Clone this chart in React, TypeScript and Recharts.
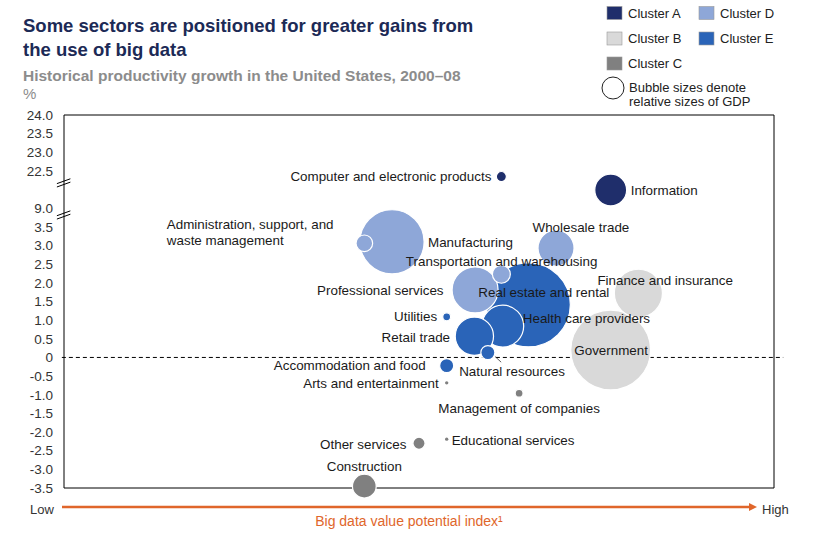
import { ScatterChart, Scatter, XAxis, YAxis, ZAxis, ReferenceArea, ReferenceLine } from "recharts"

// ---- data ----
const sectors = [
  "Computer and electronic products",
  "Information",
  "Administration, support, and waste management",
  "Manufacturing",
  "Wholesale trade",
  "Transportation and warehousing",
  "Professional services",
  "Finance and insurance",
  "Real estate and rental",
  "Utilities",
  "Health care providers",
  "Retail trade",
  "Government",
  "Natural resources",
  "Accommodation and food",
  "Arts and entertainment",
  "Management of companies",
  "Educational services",
  "Other services",
  "Construction",
]
const clusters = ["A", "A", "D", "D", "D", "D", "D", "B", "E", "E", "E", "E", "B", "E", "E", "C", "C", "C", "C", "C"]
// big data value potential index, 0 = low, 100 = high
const valuePotential = [61.6, 77.0, 42.3, 46.2, 69.3, 61.6, 57.9, 80.9, 65.4, 53.9, 61.8, 57.8, 77.0, 59.7, 53.9, 53.9, 64.1, 53.9, 50.0, 42.3]
// productivity growth, %
const productivityGrowth = [22.35, 9.49, 3.06, 3.1, 2.93, 2.23, 1.81, 1.72, 1.41, 1.09, 0.84, 0.57, 0.2, 0.13, -0.22, -0.68, -0.96, -2.19, -2.3, -3.45]
// relative size of GDP (bubble area)
const gdpShare = [0.18, 1.8, 0.49, 7.3, 2.3, 0.57, 3.75, 4.1, 12.5, 0.11, 3.1, 2.6, 11.3, 0.35, 0.35, 0.02, 0.11, 0.02, 0.26, 1.0]

const yTickValues = [-3.5, -3, -2.5, -2, -1.5, -1, -0.5, 0, 0.5, 1, 1.5, 2, 2.5, 3, 3.5, 9, 22.5, 23, 23.5, 24]
const yTickLabels = ["-3.5", "-3.0", "-2.5", "-2.0", "-1.5", "-1.0", "-0.5", "0", "0.5", "1.0", "1.5", "2.0", "2.5", "3.0", "3.5", "9.0", "22.5", "23.0", "23.5", "24.0"]

const clusterColors: Record<string, string> = {
  A: "#1f2e6b",
  B: "#d9d9d9",
  C: "#808080",
  D: "#8ea7d8",
  E: "#2a64b8",
}

// axis is broken twice: between 3.5 and 9.0, and between ~9.7 and 22.5
const toAxis = (v: number) => (v <= 3.5 ? v : v < 16 ? 4 + (v - 9) : 5 + (v - 22.5))

const yTicks = yTickValues.map(toAxis)

const points = sectors
  .map((name, i) => ({
    name,
    cluster: clusters[i],
    x: valuePotential[i],
    y: toAxis(productivityGrowth[i]),
    gdp: gdpShare[i],
  }))
  .sort((a, b) => b.gdp - a.gdp)

// where each label sits relative to its bubble
type Placement = { dx: number; dy: number; anchor: "start" | "middle" | "end"; lines?: string[]; leader?: boolean }
const labelPlacement: Record<string, Placement> = {
  "Computer and electronic products": { dx: -10, dy: 0, anchor: "end" },
  Information: { dx: 20, dy: 0, anchor: "start" },
  "Administration, support, and waste management": {
    dx: -197.5,
    dy: -19,
    anchor: "start",
    lines: ["Administration, support, and", "waste management"],
  },
  Manufacturing: { dx: 36, dy: 0, anchor: "start" },
  "Wholesale trade": { dx: -23.5, dy: -21, anchor: "start" },
  "Transportation and warehousing": { dx: -95.5, dy: -12.6, anchor: "start" },
  "Professional services": { dx: -31.5, dy: 0, anchor: "end" },
  "Finance and insurance": { dx: -41, dy: -13.3, anchor: "start" },
  "Real estate and rental": { dx: -50, dy: -12.3, anchor: "start" },
  Utilities: { dx: -9.5, dy: 0, anchor: "end" },
  "Health care providers": { dx: 20, dy: -7.7, anchor: "start" },
  "Retail trade": { dx: -24.3, dy: 1.3, anchor: "end" },
  Government: { dx: -36.4, dy: 0.7, anchor: "start" },
  "Natural resources": { dx: -28.7, dy: 19, anchor: "start", leader: true },
  "Accommodation and food": { dx: -21, dy: 0, anchor: "end" },
  "Arts and entertainment": { dx: -8, dy: 0.6, anchor: "end" },
  "Management of companies": { dx: 0, dy: 15, anchor: "middle" },
  "Educational services": { dx: 5, dy: 0.7, anchor: "start" },
  "Other services": { dx: -12.6, dy: 1, anchor: "end" },
  Construction: { dx: 0, dy: -20.3, anchor: "middle" },
}

const FONT = "'Liberation Sans', Arial, sans-serif"

const Bubble = (props: any) => {
  const { cx, cy, payload } = props
  const r = props.width ? props.width / 2 : Math.sqrt((props.size || 0) / Math.PI)
  return (
    <circle
      cx={cx}
      cy={cy}
      r={r}
      fill={clusterColors[payload.cluster]}
      stroke="#fff"
      strokeWidth={r > 3 ? 1.2 : 0}
    />
  )
}

const BubbleLabel = (props: any) => {
  const { cx, cy, payload } = props
  const p = labelPlacement[payload.name]
  if (!p) return <g />
  const lines = p.lines ?? [payload.name]
  return (
    <g>
      {p.leader && (
        <line x1={cx + 7.3} y1={cy + 4} x2={cx + 13.3} y2={cy + 9.6} stroke="#333" strokeWidth={0.8} />
      )}
      {lines.map((line, k) => (
        <text
          key={k}
          x={cx + p.dx}
          y={cy + p.dy + k * 16 + 4.7}
          textAnchor={p.anchor}
          fontSize={13.4}
          fontFamily={FONT}
          fill="#1a1a1a"
        >
          {line}
        </text>
      ))}
    </g>
  )
}

const breakMarks = [3.82, 4.68]

export default function App() {
  return (
    <div style={{ position: "absolute", left: 0, top: 0, width: 816, height: 534, background: "#fff", fontFamily: FONT }}>
      <ScatterChart width={816} height={534} margin={{ top: 115, right: 42, bottom: 46, left: 14 }}>
        <XAxis type="number" dataKey="x" domain={[0, 100]} hide />
        <YAxis
          type="number"
          dataKey="y"
          domain={[-3.5, 6.5]}
          ticks={yTicks}
          interval={0}
          width={50}
          tickLine={false}
          axisLine={false}
          tickMargin={5}
          tick={{ fontSize: 13.5, fill: "#333" }}
          tickFormatter={(v: number) => {
            const i = yTicks.findIndex((t) => Math.abs(t - v) < 1e-6)
            return i >= 0 ? yTickLabels[i] : ""
          }}
        />
        <ZAxis type="number" dataKey="gdp" domain={[0, 12.5]} range={[0, 5540]} />
        <ReferenceArea x1={0} x2={100} y1={-3.5} y2={6.5} fill="none" fillOpacity={0} stroke="#000" strokeWidth={1} />
        <ReferenceLine
          segment={[{ x: -0.3, y: 0 }, { x: 101.3, y: 0 }]}
          stroke="#000"
          strokeDasharray="4 3"
          ifOverflow="visible"
        />
        {breakMarks.flatMap((b) =>
          [-0.045, 0.045].map((o) => (
            <ReferenceLine
              key={`${b}${o}`}
              segment={[{ x: -1, y: b + o - 0.065 }, { x: 0.9, y: b + o + 0.065 }]}
              stroke="#000"
              strokeWidth={1}
              ifOverflow="visible"
            />
          ))
        )}
        <Scatter data={points} shape={Bubble} isAnimationActive={false} />
        <Scatter data={points} shape={BubbleLabel} isAnimationActive={false} />
      </ScatterChart>

      <svg
        width={816}
        height={534}
        style={{ position: "absolute", left: 0, top: 0, pointerEvents: "none" }}
        fontFamily={FONT}
      >
        <text x={23} y={32} fontSize={18.5} fontWeight="bold" fill="#1c2a56">
          Some sectors are positioned for greater gains from
        </text>
        <text x={23} y={56} fontSize={18.5} fontWeight="bold" fill="#1c2a56">
          the use of big data
        </text>
        <text x={23} y={80.5} fontSize={15.5} fontWeight="bold" fill="#8c8c8c">
          Historical productivity growth in the United States, 2000–08
        </text>
        <text x={23} y={99} fontSize={15} fill="#8c8c8c">
          %
        </text>

        {/* legend */}
        {[
          { c: "A", x: 607, y: 6.5 },
          { c: "B", x: 607, y: 32 },
          { c: "C", x: 607, y: 57 },
          { c: "D", x: 699, y: 6.5 },
          { c: "E", x: 699, y: 32 },
        ].map((l) => (
          <g key={l.c}>
            <rect x={l.x} y={l.y} width={15} height={13} fill={clusterColors[l.c]} stroke="#999" strokeWidth={0.6} />
            <text x={l.x + 21} y={l.y + 11} fontSize={13} fill="#222">
              {`Cluster ${l.c}`}
            </text>
          </g>
        ))}
        <circle cx={613} cy={88} r={11} fill="#fff" stroke="#222" strokeWidth={1} />
        <text x={629} y={91.5} fontSize={13} fill="#222">
          Bubble sizes denote
        </text>
        <text x={629} y={106} fontSize={13} fill="#222">
          relative sizes of GDP
        </text>

        {/* x axis */}
        <text x={30} y={513.5} fontSize={13} fill="#333">
          Low
        </text>
        <line x1={62} y1={507} x2={750} y2={507} stroke="#e0662b" strokeWidth={2.5} />
        <polygon points="749,503 757,507 749,511" fill="#e0662b" />
        <text x={762} y={513.5} fontSize={13} fill="#333">
          High
        </text>
        <text x={409} y={526} fontSize={14} fill="#e0662b" textAnchor="middle">
          Big data value potential index¹
        </text>
      </svg>
    </div>
  )
}
